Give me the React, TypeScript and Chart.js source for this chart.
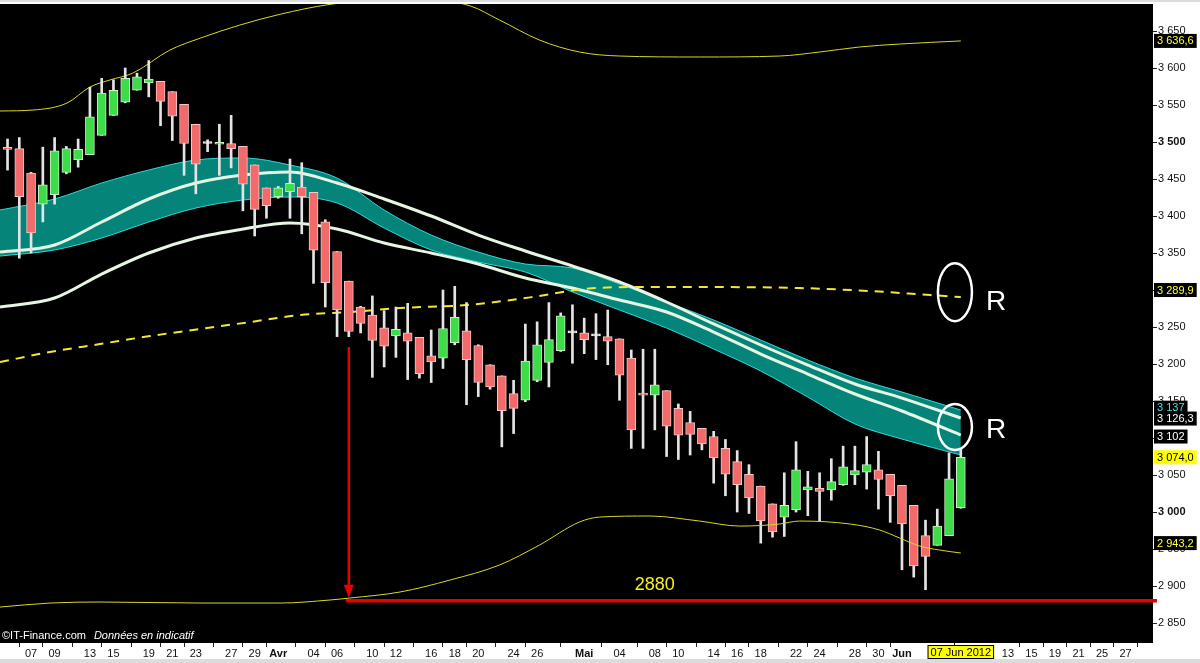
import { useEffect, useRef } from 'react';
import { Chart, registerables } from 'chart.js';
Chart.register(...registerables);

const FONT = '"Liberation Sans", Arial, sans-serif';

// ---- candles (one slot per trading day) ----
const openV = [3492,3491,3458,3416,3429,3459,3476,3483,3509,3536,3554,3570,3580,3582,3568,3551,3524,3498,3497,3498,3494,3469,3438,3426,3433,3439,3432,3392,3352,3312,3277,3266,3249,3238,3242,3236,3211,3208,3229,3245,3225,3199,3184,3160,3151,3178,3202,3218,3242,3242,3238,3237,3234,3208,3160,3158,3164,3140,3121,3113,3102,3086,3068,3051,3035,3011,2993,3003,3030,3032,3030,3037,3050,3054,3057,3051,3036,3009,2968,2955,2968,3006];
const highV = [3504,3506,3459,3493,3506,3494,3504,3574,3586,3584,3600,3593,3610,3582,3568,3551,3524,3503,3524,3536,3494,3469,3438,3440,3477,3472,3432,3395,3352,3312,3278,3292,3272,3277,3282,3236,3246,3300,3305,3283,3226,3199,3184,3178,3254,3257,3283,3269,3280,3262,3268,3273,3234,3219,3220,3220,3164,3146,3136,3113,3109,3098,3083,3064,3035,3011,3053,3095,3055,3053,3072,3089,3089,3102,3082,3051,3036,3009,2989,3004,3080,3086];
const lowV = [3462,3343,3350,3392,3416,3457,3466,3483,3509,3536,3553,3570,3561,3522,3502,3455,3430,3487,3455,3465,3407,3373,3397,3424,3397,3376,3309,3277,3237,3237,3242,3182,3196,3209,3179,3181,3175,3194,3226,3145,3156,3166,3088,3106,3149,3176,3169,3217,3201,3214,3206,3199,3151,3086,3086,3111,3075,3071,3077,3084,3039,3022,3000,2998,2958,2966,2967,3000,2995,2988,3016,3036,3037,3031,3004,2986,2922,2912,2895,2955,2968,3005];
const closeV = [3490,3426,3377,3442,3488,3491,3490,3534,3566,3570,3586,3588,3585,3555,3535,3498,3470,3498,3499,3491,3443,3409,3414,3438,3444,3426,3354,3310,3273,3244,3255,3232,3224,3247,3231,3187,3203,3248,3263,3206,3175,3169,3137,3140,3204,3226,3233,3265,3242,3233,3238,3231,3185,3111,3158,3172,3116,3104,3105,3092,3073,3051,3037,3019,2988,2973,3009,3057,3034,3028,3041,3061,3056,3064,3044,3022,2984,2927,2940,2981,3045,3074];

// ---- x axis labels (slot index -> text) ----
const xTickIdx = [2,4,7,9,12,14,16,19,21,23,26,28,31,33,36,38,40,43,45,49,52,55,57,60,62,64,67,69,72,74,76,85,87,89,91,93,95];
const xTickText = ['07','09','13','15','19','21','23','27','29','Avr','04','06','10','12','16','18','20','24','26','Mai','04','08','10','14','16','18','22','24','28','30','Jun','13','15','19','21','25','27'];
const monthText = ['Avr','Mai','Jun'];
const lastDateText = '07 Jun 2012';

// ---- y axis ----
const yTicks = [2850,2900,2950,3000,3050,3100,3150,3200,3250,3300,3350,3400,3450,3500,3550,3600,3650];

// ---- overlay lines ----
const upperBandIdx = [-0.64,2.17,5.06,7.0,8.7,10.66,13.8,16.4,19.75,23.15,27.4,31.6,35.9,39.3,41.8,45.2,48.6,52.0,58.8,65.6,69.0,72.4,75.8,81];
const upperBandVal = [3541.9,3543.2,3552.7,3574.3,3583.8,3593.2,3624.3,3640.5,3658.1,3672.6,3686,3692,3692,3684,3664.9,3637.8,3621.6,3616.2,3614.9,3616.2,3621.6,3628.4,3632.4,3636.6];

const lowerBandIdx = [-0.64,3.6,7.86,16.35,23.15,27.4,29.1,33.35,37.6,41.8,45.2,48.6,50.3,54.6,58.8,62.2,65.6,67.3,71.6,74.1,75.8,77.5,79.2,81];
const lowerBandVal = [2871.6,2877,2878.4,2877,2877,2881.1,2883.8,2891.9,2908.1,2928.4,2955.4,2986.5,2993.2,2994.6,2987.8,2981,2983.8,2987.8,2983.8,2975.7,2964.9,2954,2948.6,2944.6];

const maIdx = [-0.64,3.6,7.86,12.1,16.35,20.6,24.85,29.1,33.35,39,44.6,48.9,53.1,58.8,67.3,73.3,78.4,81];
const maVal = [3202.7,3216.2,3227,3237.8,3247.3,3256.7,3266.2,3270.3,3275.7,3279.7,3290.5,3301.3,3304,3304,3302.7,3298.6,3293.2,3290.5];

const ribbonIdx = [-0.64,4,8,12,16,20,24,28,32,36,40,44,48,52,56,60,64,68,72,76,81];
const cyanUpperVal = [3408.1,3423,3444.6,3462.2,3475.7,3478.4,3468.9,3451.3,3408.1,3374.3,3351.3,3335.1,3329.7,3308.1,3283.8,3259.5,3232.4,3205.4,3181.1,3162.1,3137.8];
const cyanLowerVal = [3345.9,3354.1,3370.3,3391.9,3410.8,3421.6,3425.7,3417.6,3383.8,3354.1,3337.8,3324.3,3297.3,3273,3248.6,3220.3,3190.5,3155.4,3119,3098.6,3077];
const white1Val = [3351.3,3360.8,3391.9,3423,3444.6,3455.4,3459.5,3444.6,3423,3400,3374.3,3352.7,3332.4,3310.8,3283.8,3254.1,3225.7,3198.6,3173,3154,3127];
const white2Val = [3277,3289.2,3321.6,3350,3370.3,3382.4,3390.5,3382.4,3363.5,3350,3335.1,3316.2,3302.7,3286.5,3270.3,3243.2,3213.5,3186.5,3159.5,3136.5,3104];

// ---- annotations ----
const targetLevel = 2880;
const arrowIdx = 29;
const arrowTop = 3223;
const targetText = '2880';
const targetTextAt = { idx: 55, val: 2901 };
const circles = [{ idx: 80.5, val: 3297 }, { idx: 80.5, val: 3115 }];
const rLabels = [{ idx: 84, val: 3283 }, { idx: 84, val: 3111 }];
const valueBoxes = [
  { text: '3 636,6', val: 3636.6, fg: '#ffff40', bg: '#000000' },
  { text: '3 289,9', val: 3300, fg: '#ffff40', bg: '#000000' },
  { text: '3 137', val: 3141, fg: '#40e0e0', bg: '#000000' },
  { text: '3 126,3', val: 3126.3, fg: '#ffffff', bg: '#000000' },
  { text: '3 102', val: 3102, fg: '#ffffff', bg: '#000000' },
  { text: '3 074,0', val: 3074, fg: '#000000', bg: '#ffff00' },
  { text: '2 943,2', val: 2958, fg: '#ffff40', bg: '#000000' },
];

const pts = (xs: number[], ys: number[]) => xs.map((x, i) => ({ x, y: ys[i] }));

const isUp = (i: number) => closeV[i] > openV[i];
const isDoji = (i: number) => Math.abs(closeV[i] - openV[i]) < 1;

export default function App() {
  const ref = useRef<HTMLCanvasElement>(null);
  useEffect(() => {
    document.body.style.margin = '0';
    const canvas = ref.current!;
    const idx = openV.map((_, i) => i);

    const bgPlugin = {
      id: 'bgPlugin',
      beforeDraw(chart: any) {
        const { ctx, chartArea: a, width, height } = chart;
        ctx.save();
        ctx.fillStyle = '#ffffff';
        ctx.fillRect(0, 0, width, height);
        ctx.fillStyle = '#000000';
        ctx.fillRect(a.left, a.top, a.right - a.left, a.bottom - a.top);
        ctx.fillStyle = '#dcdcdc';
        ctx.fillRect(0, height - 4, width, 4);
        ctx.fillRect(0, 0, width, 2);
        ctx.restore();
      },
    };

    const annoPlugin = {
      id: 'annoPlugin',
      afterDatasetsDraw(chart: any) {
        const { ctx, scales, chartArea: a } = chart;
        const xs = scales.x, ys = scales.y;
        ctx.save();
        const yT = ys.getPixelForValue(targetLevel);
        const xA = xs.getPixelForValue(arrowIdx);
        ctx.strokeStyle = '#e80000';
        ctx.lineWidth = 3.5;
        ctx.beginPath();
        ctx.moveTo(xA - 3, yT);
        ctx.lineTo(a.right + 4, yT);
        ctx.stroke();
        const yTop = ys.getPixelForValue(arrowTop);
        ctx.lineWidth = 2.5;
        ctx.beginPath();
        ctx.moveTo(xA, yTop);
        ctx.lineTo(xA, yT - 12);
        ctx.stroke();
        ctx.fillStyle = '#e80000';
        ctx.beginPath();
        ctx.moveTo(xA - 5, yT - 16);
        ctx.lineTo(xA + 5, yT - 16);
        ctx.lineTo(xA, yT - 3);
        ctx.closePath();
        ctx.fill();
        ctx.fillStyle = '#f5f020';
        ctx.font = '18px ' + FONT;
        ctx.textAlign = 'center';
        ctx.textBaseline = 'middle';
        ctx.fillText(targetText, xs.getPixelForValue(targetTextAt.idx), ys.getPixelForValue(targetTextAt.val));
        ctx.strokeStyle = '#ffffff';
        ctx.lineWidth = 2.5;
        const rys = [29, 23];
        circles.forEach((c, k) => {
          ctx.beginPath();
          ctx.ellipse(xs.getPixelForValue(c.idx), ys.getPixelForValue(c.val), 17, rys[k], 0, 0, Math.PI * 2);
          ctx.stroke();
        });
        ctx.fillStyle = '#ffffff';
        ctx.font = '28px ' + FONT;
        rLabels.forEach((r) => {
          ctx.fillText('R', xs.getPixelForValue(r.idx), ys.getPixelForValue(r.val));
        });
        ctx.textAlign = 'left';
        ctx.textBaseline = 'alphabetic';
        ctx.fillStyle = '#ffffff';
        ctx.font = '11px ' + FONT;
        ctx.fillText('©IT-Finance.com', a.left + 2, a.bottom - 4);
        const w = ctx.measureText('©IT-Finance.com').width;
        ctx.font = 'italic 11px ' + FONT;
        ctx.fillText('Données en indicatif', a.left + 2 + w + 8, a.bottom - 4);
        ctx.restore();
      },
      afterDraw(chart: any) {
        const { ctx, scales, chartArea: a } = chart;
        const xs = scales.x, ys = scales.y;
        ctx.save();
        ctx.font = '11px ' + FONT;
        ctx.textBaseline = 'middle';
        ctx.textAlign = 'left';
        valueBoxes.forEach((b) => {
          const y = ys.getPixelForValue(b.val);
          const tw = ctx.measureText(b.text).width;
          ctx.fillStyle = b.bg;
          ctx.fillRect(a.right + 1, y - 7, tw + 6, 14);
          ctx.fillStyle = b.fg;
          ctx.fillText(b.text, a.right + 4, y + 0.5);
        });
        const xd = xs.getPixelForValue(openV.length - 1);
        const tw = ctx.measureText(lastDateText).width;
        ctx.fillStyle = '#ffff00';
        ctx.fillRect(xd - tw / 2 - 3, a.bottom + 2, tw + 6, 14);
        ctx.strokeStyle = '#000';
        ctx.lineWidth = 1;
        ctx.strokeRect(xd - tw / 2 - 2.5, a.bottom + 2.5, tw + 5, 13);
        ctx.fillStyle = '#000';
        ctx.textAlign = 'center';
        ctx.fillText(lastDateText, xd, a.bottom + 9.5);
        ctx.restore();
      },
    };

    const lineDs = (data: any[], color: string, width: number, order: number, extra: any = {}) => ({
      type: 'line',
      data,
      borderColor: color,
      borderWidth: width,
      pointRadius: 0,
      cubicInterpolationMode: 'monotone',
      fill: false,
      order,
      ...extra,
    });

    const chart = new Chart(canvas, {
      type: 'bar',
      data: {
        datasets: [
          lineDs(pts(ribbonIdx, cyanUpperVal), '#30d8d8', 1, 6),
          lineDs(pts(ribbonIdx, cyanLowerVal), '#30d8d8', 1, 6, { fill: 0, backgroundColor: '#05847a' }),
          lineDs(pts(ribbonIdx, white1Val), '#e6f6e2', 3, 5),
          lineDs(pts(ribbonIdx, white2Val), '#e6f6e2', 3, 5),
          lineDs(pts(maIdx, maVal), '#f0e838', 2, 4, { borderDash: [9, 7] }),
          lineDs(pts(upperBandIdx, upperBandVal), '#d8d828', 1, 3),
          lineDs(pts(lowerBandIdx, lowerBandVal), '#d8d828', 1, 1),
          {
            type: 'bar',
            data: idx.map((i) => ({ x: i, y: [lowV[i], highV[i]] })),
            backgroundColor: '#e4e4e4',
            barThickness: 2,
            grouped: false,
            order: 2,
          },
          {
            type: 'bar',
            data: idx.map((i) => ({ x: i, y: [openV[i], closeV[i]] })),
            backgroundColor: idx.map((i) => (isDoji(i) ? '#f0f0f0' : isUp(i) ? '#3ddc48' : '#f26a6a')),
            borderColor: idx.map((i) => (isDoji(i) ? '#f0f0f0' : isUp(i) ? '#c8f2c8' : '#f6c6c6')),
            borderWidth: 1,
            borderSkipped: false,
            barThickness: 9,
            minBarLength: 2,
            grouped: false,
            order: 1.5,
          },
        ] as any,
      },
      options: {
        responsive: false,
        animation: false,
        events: [],
        layout: { padding: { top: 4, left: 0, right: 0, bottom: 0 } },
        plugins: { legend: { display: false }, tooltip: { enabled: false } },
        scales: {
          x: {
            type: 'linear',
            min: -0.64,
            max: 97.33,
            offset: false,
            afterBuildTicks: (s: any) => {
              s.ticks = xTickIdx.map((v) => ({ value: v }));
            },
            afterFit: (s: any) => {
              s.height = 20;
              s.paddingLeft = 0;
              s.paddingRight = 0;
            },
            grid: { display: true, drawOnChartArea: false, tickLength: 4, color: '#222' },
            border: { display: false },
            ticks: {
              autoSkip: false,
              maxRotation: 0,
              padding: 0,
              color: '#111',
              font: (c: any) => ({ family: FONT, size: 11, weight: c.tick && monthText.includes(xTickText[xTickIdx.indexOf(c.tick.value)]) ? 'bold' : 'normal' }),
              callback: (v: any) => xTickText[xTickIdx.indexOf(v)] ?? '',
            },
          },
          y: {
            type: 'linear',
            position: 'right',
            min: 2823,
            max: 3686.5,
            afterBuildTicks: (s: any) => {
              s.ticks = yTicks.map((v) => ({ value: v }));
            },
            afterFit: (s: any) => {
              s.width = 47;
              s.paddingTop = 0;
              s.paddingBottom = 0;
            },
            grid: { display: true, drawOnChartArea: false, tickLength: 4, color: '#222' },
            border: { display: false },
            ticks: {
              padding: 1,
              color: '#111',
              font: (c: any) => ({ family: FONT, size: 11, weight: c.tick && c.tick.value % 500 === 0 ? 'bold' : 'normal' }),
              callback: (v: any) => {
                const s = String(v);
                return s.slice(0, 1) + ' ' + s.slice(1);
              },
            },
          },
        },
      } as any,
      plugins: [bgPlugin, annoPlugin],
    });
    return () => chart.destroy();
  }, []);
  return (
    <div style={{ width: 1200, height: 663 }}>
      <canvas ref={ref} width={1200} height={663} style={{ display: 'block' }} />
    </div>
  );
}
